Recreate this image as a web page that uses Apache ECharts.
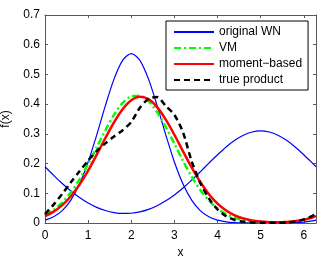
<!DOCTYPE html>
<html>
<head>
<meta charset="utf-8">
<script src="https://cdn.jsdelivr.net/npm/echarts@6/dist/echarts.min.js"></script>
<style>
html,body{margin:0;padding:0;background:#fff;}
#c{width:327px;height:258px;}
</style>
</head>
<body>
<div id="c"></div>
<script>
var xs = [0,0.2,0.4,0.6,0.8,1.0,1.2,1.4,1.6,1.8,2.0,2.2,2.4,2.6,2.8,3.0,3.2,3.4,3.6,3.8,4.0,4.2,4.4,4.6,4.8,5.0,5.2,5.4,5.6,5.8,6.0,6.2,6.2832];
var wn1 = [0.0096,0.0209,0.0418,0.0771,0.1312,0.2054,0.2967,0.3948,0.4842,0.5472,0.570,0.5472,0.4842,0.3948,0.2967,0.2054,0.1312,0.0771,0.0418,0.0209,0.0096,0.0041,0.0016,0.0006,0.0002,0.0001,0.0001,0.0001,0.0004,0.0011,0.0028,0.0069,0.0096];
var wn2 = [0.1892,0.1604,0.1329,0.1078,0.0857,0.0673,0.0527,0.0420,0.0351,0.0321,0.0329,0.0375,0.0459,0.0582,0.0745,0.0944,0.1178,0.1441,0.1723,0.2013,0.2295,0.2558,0.2782,0.2954,0.3063,0.310,0.3063,0.2954,0.2782,0.2558,0.2296,0.2013,0.1892];
var vm = [0.027,0.0442,0.0693,0.1033,0.1466,0.1983,0.255,0.312,0.364,0.404,0.426,0.428,0.410,0.373,0.323,0.267,0.209,0.156,0.111,0.0754,0.0485,0.0298,0.0174,0.0096,0.0052,0.0029,0.0020,0.0022,0.0036,0.0066,0.0122,0.0215,0.027];
var moment = [0.023,0.0382,0.060,0.090,0.129,0.176,0.230,0.286,0.339,0.383,0.413,0.425,0.417,0.390,0.348,0.297,0.241,0.187,0.138,0.097,0.0654,0.042,0.0257,0.015,0.0083,0.0047,0.0029,0.0025,0.0034,0.0059,0.0105,0.0185,0.023];
var trueProduct = [0.030,0.062,0.098,0.137,0.174,0.210,0.243,0.268,0.291,0.312,0.340,0.388,0.418,0.424,0.394,0.364,0.305,0.208,0.135,0.083,0.046,0.023,0.010,0.004,0.002,0.001,0.001,0.001,0.002,0.005,0.012,0.024,0.030];
var legendNames = ['original WN','VM','moment\u2212based','true product'];
var xTicks = [0,1,2,3,4,5,6];

function pairs(ys){ return xs.map(function(x,i){ return [x, ys[i]]; }); }

var FONT = 'Liberation Sans, Arial, sans-serif';
var chart = echarts.init(document.getElementById('c'), null, {renderer:'canvas'});
var axisLineStyle = {color:'#5a5a5a', width:1};
chart.setOption({
  animation:false,
  backgroundColor:'#fff',
  grid:{left:45, right:11, top:15, bottom:35, containLabel:false, outerBoundsMode:'none'},
  legend:{
    data:legendNames,
    orient:'vertical',
    left:166, top:21,
    padding:[5,6,4,7],
    itemWidth:40, itemHeight:12, itemGap:4, itemTextGap:5,
    backgroundColor:'#fff',
    borderColor:'#000', borderWidth:1, borderRadius:0,
    selectedMode:false,
    itemStyle:{opacity:0},
    textStyle:{fontFamily:FONT, fontSize:12, color:'#000'}
  },
  xAxis:[{
    type:'value', min:0, max:6.2832, interval:1,
    name:'x', nameLocation:'middle', nameGap:24,
    nameTextStyle:{fontFamily:FONT, fontSize:12, color:'#000'},
    axisLine:{show:true, onZero:false, lineStyle:axisLineStyle},
    axisTick:{show:true, inside:true, length:3, lineStyle:axisLineStyle},
    axisLabel:{margin:7, fontFamily:FONT, fontSize:12, color:'#000', showMaxLabel:false,
      formatter:function(v){ return xTicks.indexOf(v)>=0 ? String(v) : ''; }},
    splitLine:{show:false}
  },{
    type:'value', min:0, max:6.2832, interval:1, position:'top',
    axisLine:{show:true, onZero:false, lineStyle:axisLineStyle},
    axisTick:{show:true, inside:true, length:3, lineStyle:axisLineStyle},
    axisLabel:{show:false}, splitLine:{show:false}
  }],
  yAxis:[{
    type:'value', min:0, max:0.7, interval:0.1,
    name:'f(x)', nameLocation:'middle', nameGap:33, nameRotate:90,
    nameTextStyle:{fontFamily:FONT, fontSize:12, color:'#000'},
    axisLine:{show:true, onZero:false, lineStyle:axisLineStyle},
    axisTick:{show:true, inside:true, length:3, lineStyle:axisLineStyle},
    axisLabel:{margin:5, fontFamily:FONT, fontSize:12, color:'#000',
      formatter:function(v){ return v===0 ? '0' : v.toFixed(1); }},
    splitLine:{show:false}
  },{
    type:'value', min:0, max:0.7, interval:0.1, position:'right',
    axisLine:{show:true, onZero:false, lineStyle:axisLineStyle},
    axisTick:{show:true, inside:true, length:3, lineStyle:axisLineStyle},
    axisLabel:{show:false}, splitLine:{show:false}
  }],
  series:[
    {name:legendNames[0], type:'line', data:pairs(wn1), smooth:0.3, showSymbol:false, symbol:'none',
      lineStyle:{color:'#0000ff', width:1.2}, itemStyle:{color:'#0000ff'}},
    {name:legendNames[0], type:'line', data:pairs(wn2), smooth:0.3, showSymbol:false, symbol:'none',
      lineStyle:{color:'#0000ff', width:1.2}, itemStyle:{color:'#0000ff'}},
    {name:legendNames[1], type:'line', data:pairs(vm), smooth:0.3, showSymbol:false, symbol:'none',
      lineStyle:{color:'#00ff00', width:2.5, type:[7,3,2,3]}, itemStyle:{color:'#00ff00'}},
    {name:legendNames[2], type:'line', data:pairs(moment), smooth:0.3, showSymbol:false, symbol:'none',
      lineStyle:{color:'#ff0000', width:2.5}, itemStyle:{color:'#ff0000'}},
    {name:legendNames[3], type:'line', data:pairs(trueProduct), smooth:0.25, showSymbol:false, symbol:'none',
      lineStyle:{color:'#000000', width:2.5, type:[6,4]}, itemStyle:{color:'#000000'}}
  ]
});
</script>
</body>
</html>
